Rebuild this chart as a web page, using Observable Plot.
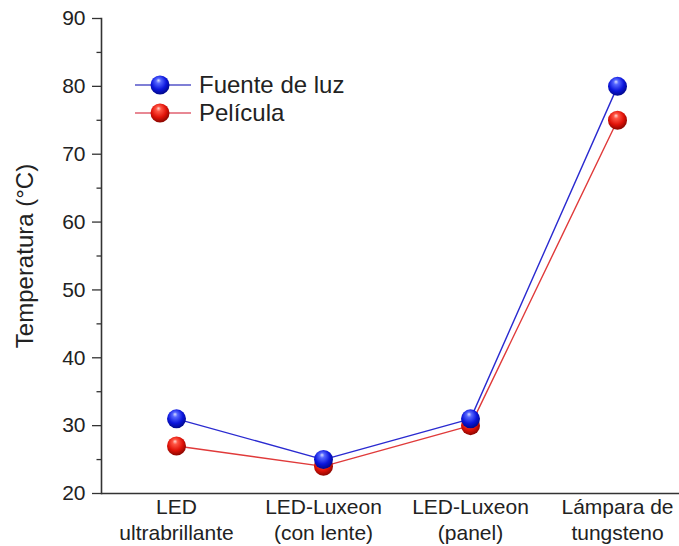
<!DOCTYPE html>
<html><head><meta charset="utf-8">
<script src="https://cdn.jsdelivr.net/npm/d3@7"></script>
<script src="https://cdn.jsdelivr.net/npm/@observablehq/plot@0.6"></script>
<style>
body{margin:0;background:#fff;}
#chart{width:679px;height:546px;}
g[aria-label="y-axis label"]{font-size:24px;}
</style></head><body><div id="chart"></div>
<script>
const categories = ["LED ultrabrillante", "LED-Luxeon (con lente)", "LED-Luxeon (panel)", "Lámpara de tungsteno"];
const tickLabels = ["LED\nultrabrillante", "LED-Luxeon\n(con lente)", "LED-Luxeon\n(panel)", "Lámpara de\ntungsteno"];
const fuenteDeLuz = [31, 25, 31, 80];
const pelicula = [27, 24, 30, 75];
const seriesNames = ["Fuente de luz", "Película"];
const yTicks = [20, 30, 40, 50, 60, 70, 80, 90];
const yMinorTicks = [25, 35, 45, 55, 65, 75, 85];

const fuenteData = categories.map((c, i) => ({cat: c, serie: seriesNames[0], t: fuenteDeLuz[i]}));
const peliculaData = categories.map((c, i) => ({cat: c, serie: seriesNames[1], t: pelicula[i]}));

const blue = "#2a2ad0", red = "#e03a3a";

const svg = Plot.plot({
  width: 679, height: 546,
  marginLeft: 101, marginRight: 0, marginTop: 18, marginBottom: 53,
  style: {fontFamily: '"Liberation Sans", Arial, sans-serif', color: "#222", background: "#fff"},
  x: {type: "point", domain: categories, range: [175, 617], padding: 0},
  y: {domain: [20, 90]},
  marks: [
    Plot.axisY({ticks: yMinorTicks, tickSize: 4.5, tickFormat: () => "", label: null, stroke: "#333", strokeWidth: 1.3}),
    Plot.axisY({ticks: yTicks, tickSize: 9, tickPadding: 7, fontSize: 21, stroke: "#333", strokeWidth: 1.3,
      label: "Temperatura (°C)", labelAnchor: "center", labelOffset: 86, labelArrow: "none"}),
    Plot.axisX({tickSize: 0, tickPadding: 2, fontSize: 21, lineHeight: 1.25, label: null,
      tickFormat: d => tickLabels[categories.indexOf(d)]}),
    Plot.ruleY([20], {stroke: "#333", strokeWidth: 1.6}),
    Plot.frame({anchor: "left", stroke: "#333", strokeWidth: 1.6}),
    Plot.line(peliculaData, {x: "cat", y: "t", stroke: red, strokeWidth: 1.4}),
    Plot.line(fuenteData, {x: "cat", y: "t", stroke: blue, strokeWidth: 1.4}),
    Plot.dot(peliculaData, {x: "cat", y: "t", r: 9.5, fill: "url(#gRed)", stroke: "none"}),
    Plot.dot(fuenteData, {x: "cat", y: "t", r: 9.5, fill: "url(#gBlue)", stroke: "none"})
  ]
});

const s = d3.select(svg);
const defs = s.insert("defs", ":first-child");
function grad(id, stops) {
  const g = defs.append("radialGradient").attr("id", id)
    .attr("cx", "0.45").attr("cy", "0.4").attr("r", "0.6").attr("fx", "0.42").attr("fy", "0.25");
  stops.forEach(([o, c]) => g.append("stop").attr("offset", o).attr("stop-color", c));
}
grad("gBlue", [["0%", "#d8dcff"], ["22%", "#5566ff"], ["65%", "#0c16dc"], ["100%", "#00088a"]]);
grad("gRed", [["0%", "#ffd8d0"], ["22%", "#ff5544"], ["65%", "#e01208"], ["100%", "#8a0600"]]);

// legend inside the plot area
const leg = s.append("g").attr("font-family", '"Liberation Sans", Arial, sans-serif')
  .attr("font-size", 24).attr("fill", "#222").attr("text-anchor", "start");
const legItems = [
  {name: seriesNames[0], line: "#5555c8", fill: "url(#gBlue)", y: 85},
  {name: seriesNames[1], line: "#e06070", fill: "url(#gRed)", y: 113}
];
legItems.forEach(it => {
  leg.append("line").attr("x1", 135).attr("x2", 191).attr("y1", it.y).attr("y2", it.y)
    .attr("stroke", it.line).attr("stroke-width", 1.5);
  leg.append("circle").attr("cx", 160).attr("cy", it.y).attr("r", 9.5).attr("fill", it.fill);
  leg.append("text").attr("x", 199).attr("y", it.y).attr("dy", "0.35em").text(it.name);
});

document.getElementById("chart").appendChild(svg);
</script>
</body></html>
